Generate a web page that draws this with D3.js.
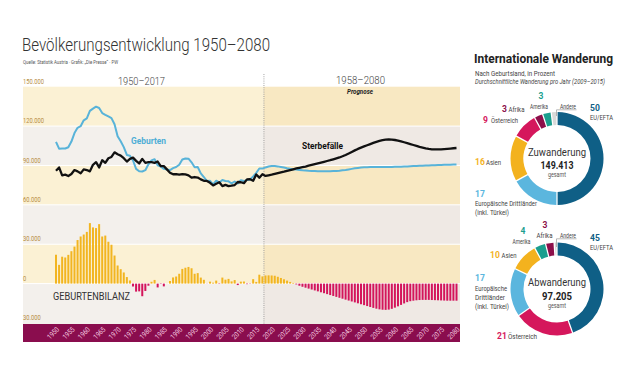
<!DOCTYPE html>
<html><head><meta charset="utf-8">
<script src="https://cdn.jsdelivr.net/npm/d3@7"></script>
<style>
body{margin:0;background:#fff;}
svg{display:block;font-family:"Roboto","Liberation Sans",sans-serif;}
</style></head><body>
<svg id="c" width="640" height="384"></svg>
<script>
// ---------- DATA (values in thousands) ----------
const years = d3.range(1950, 2081);
const births = [
108.0,102.8,103.0,102.9,103.9,108.2,114.7,118.7,119.9,124.4,
125.9,131.6,133.3,134.8,133.8,129.9,128.6,127.4,126.1,121.4,
112.3,108.5,104.0,98.0,97.4,93.8,87.4,85.6,85.4,86.4,
90.9,93.9,94.8,90.1,89.2,87.4,87.0,86.5,88.0,88.8,
90.5,94.6,95.3,95.2,92.4,88.7,88.8,84.0,81.2,78.1,
78.3,75.5,78.4,76.9,78.9,78.2,77.9,76.3,77.8,76.3,
78.7,78.1,79.0,79.3,81.7,84.4,87.7,87.6,
88.5,89.2,89.6,89.6,89.3,88.9,88.4,87.9,87.5,87.2,
86.9,86.6,86.3,86.1,85.9,85.8,85.7,85.6,85.6,85.6,
85.6,85.6,85.7,85.8,86.0,86.3,86.6,87.0,87.4,87.8,
88.1,88.4,88.6,88.7,88.8,88.9,88.9,88.9,88.9,88.9,
88.9,88.9,89.0,89.0,89.1,89.2,89.3,89.4,89.5,89.6,
89.7,89.8,89.9,90.0,90.1,90.2,90.3,90.4,90.5,90.6,
90.6,90.7,90.8];
const deaths = [
86.0,88.5,82.5,83.0,82.0,83.5,86.5,85.5,84.0,87.0,
86.5,85.5,90.5,92.5,88.5,94.0,92.0,95.5,96.5,100.0,
98.5,97.5,95.5,93.0,95.0,96.0,93.5,91.5,95.0,92.0,
92.5,92.5,92.0,93.0,89.5,89.5,87.0,84.5,83.3,83.4,
83.0,83.4,83.2,82.5,80.7,81.2,80.8,79.4,78.3,78.2,
76.8,74.8,76.1,77.2,74.3,75.2,74.3,74.6,75.1,77.4,
77.2,76.5,79.4,79.5,78.3,83.1,80.7,83.3,
82.0,82.5,83.0,83.6,84.2,84.8,85.3,85.9,86.5,87.1,
87.7,88.2,88.7,89.2,89.8,90.4,91.0,91.6,92.2,92.8,
93.4,94.0,94.7,95.4,96.1,97.0,98.0,99.1,100.3,101.5,
102.6,103.6,104.5,105.4,106.3,107.2,108.0,108.7,109.3,109.7,
109.8,109.7,109.4,109.0,108.4,107.7,107.0,106.3,105.6,104.9,
104.2,103.6,103.0,102.6,102.3,102.2,102.2,102.3,102.5,102.7,
102.9,103.1,103.3];
const balance = [
22.0,14.3,20.5,19.9,21.9,24.7,28.2,33.2,35.9,37.4,
39.4,46.1,42.8,42.3,45.3,35.9,36.6,31.9,29.6,21.4,
13.8,11.0,8.5,5.0,2.4,-2.2,-6.1,-5.9,-9.6,-5.6,
-1.6,1.4,2.8,-2.9,-0.3,-2.1,0.1,2.0,4.7,5.4,
7.5,11.2,12.1,12.7,11.7,7.5,8.0,4.6,2.9,-0.1,
1.5,0.7,2.3,-0.3,4.6,3.0,3.6,1.7,2.7,-1.1,
1.5,1.6,-0.4,-0.2,3.4,1.3,6.8,5.5,
6.2,6.3,6.2,6.0,5.2,4.3,3.3,2.3,1.3,0.5,
-0.6,-1.6,-2.4,-3.1,-3.8,-4.5,-5.2,-5.9,-6.6,-7.3,
-8.0,-8.7,-9.4,-10.1,-10.8,-11.5,-12.2,-12.9,-13.6,-14.3,
-15.0,-15.7,-16.4,-17.1,-17.8,-18.5,-19.1,-19.6,-19.9,-20.0,
-19.8,-19.2,-18.3,-17.3,-16.2,-15.1,-14.1,-13.4,-13.0,-12.7,
-12.5,-12.4,-12.4,-12.4,-12.5,-12.6,-12.7,-12.8,-12.9,-13.0,
-13.0,-13.0,-13.0];
const yTicks = [150,120,90,60,30,0,-30];
const yTickLabels = ["150.000","120.000","90.000","60.000","30.000","0","30.000"];
const xTickYears = d3.range(1950, 2081, 5);
const lastObservedYear = 2017;

const zuCategories = ["EU/EFTA","Europäische Drittländer","Asien","Österreich","Afrika","Amerika","Andere"];
const zuValues     = [50,17,16,9,3,3,2];
const zuTotal = "149.413";
const abCategories = ["EU/EFTA","Österreich","Europäische Drittländer","Asien","Amerika","Afrika","Andere"];
const abValues     = [45,21,17,10,4,3,1];
const abTotal = "97.205";

// ---------- STYLE ----------
const catColor = {
  "EU/EFTA":"#0f5f86","Europäische Drittländer":"#5bb6de","Asien":"#f3b21e",
  "Österreich":"#d5175c","Afrika":"#8c0f4a","Amerika":"#1b9e8e","Andere":"#d9d9d9"
};
const svg = d3.select("#c");

// text helper: o = {size, w (target width), sx (x-scale), anchor, weight, style, fill}
function T(parent, x, y, str, o) {
  o = o || {};
  const t = parent.append("text").attr("font-size", o.size || 7).attr("fill", o.fill || "#444")
    .attr("text-anchor", o.anchor || "start").text(str);
  if (o.weight) t.attr("font-weight", o.weight);
  if (o.style) t.attr("font-style", o.style);
  if (o.w) {
    t.attr("x", x).attr("y", y).attr("textLength", o.w).attr("lengthAdjust", "spacingAndGlyphs");
  } else {
    t.attr("transform", `translate(${x},${y}) scale(${o.sx || 0.84},1)`);
  }
  return t;
}

// ---------- LEFT CHART ----------
const x = d3.scaleLinear().domain([1950,2080]).range([56,456.5]);
const y = d3.scaleLinear().domain([-30,150]).range([323,86.7]);
const left = 23, right = 460, xDiv = x(lastObservedYear + 0.5);
const bandColsL = ["#fbf1d4","#f3f0ec"], bandColsR = ["#f8e8c2","#efe9e4"];

const g = svg.append("g");
for (let i = 0; i < yTicks.length - 1; i++) {
  const y0 = y(yTicks[i]), y1 = (i === yTicks.length - 2) ? 324 : y(yTicks[i+1]);
  g.append("rect").attr("x",left).attr("y",y0).attr("width",xDiv-left).attr("height",y1-y0).attr("fill",bandColsL[i%2]);
  g.append("rect").attr("x",xDiv).attr("y",y0).attr("width",right-xDiv).attr("height",y1-y0).attr("fill",bandColsR[i%2]);
}
yTicks.slice(1,-1).forEach(t => {
  g.append("line").attr("x1",left).attr("x2",right).attr("y1",y(t)).attr("y2",y(t))
   .attr("stroke","#fff").attr("stroke-width",1);
});
// y labels
yTicks.forEach((d,i) => T(g, left, y(d)-2.8, yTickLabels[i], {size:7.2, fill:"#b68c3f", sx:0.8}));

// divider
g.append("line").attr("x1",xDiv).attr("x2",xDiv).attr("y1",74).attr("y2",324)
  .attr("stroke","#8d8d8d").attr("stroke-width",0.8).attr("stroke-dasharray","1,1.2");

// bars
g.selectAll(".bar").data(years).join("rect")
  .attr("x",d=>x(d)-1).attr("width",2)
  .attr("y",(d,i)=>y(Math.max(0,balance[i])))
  .attr("height",(d,i)=>Math.abs(y(balance[i])-y(0)))
  .attr("fill",(d,i)=>balance[i]>=0?"#f2b520":"#d4155b");

// lines
const line = arr => d3.line().x((d,i)=>x(years[i])).y(d=>y(d))(arr);
g.append("path").attr("d",line(births)).attr("fill","none").attr("stroke","#58b3d9").attr("stroke-width",2).attr("stroke-linejoin","round");
g.append("path").attr("d",line(deaths)).attr("fill","none").attr("stroke","#111").attr("stroke-width",2.3).attr("stroke-linejoin","round");

// x band
g.append("rect").attr("x",left).attr("y",324).attr("width",right-left).attr("height",18).attr("fill","#8a0d4e");
xTickYears.forEach(d => {
  g.append("text").attr("transform",`translate(${x(d)-2.5},333.5) rotate(-45) scale(0.85,1)`)
   .attr("text-anchor","middle").attr("dominant-baseline","middle")
   .attr("font-size",7.2).attr("fill","#f7cde0").text(d);
});

// texts
T(svg, 22, 51, "Bevölkerungsentwicklung 1950–2080", {size:18.5, fill:"#333", weight:300, w:248});
T(svg, 23, 63.5, "Quelle: Statistik Austria · Grafik: „Die Presse“ · PW", {size:4.6, fill:"#555", w:95});
T(svg, 141.5, 85, "1950–2017", {size:11.5, fill:"#444", anchor:"middle", weight:300, w:47});
T(svg, 360.5, 84, "1958–2080", {size:11.5, fill:"#444", anchor:"middle", weight:300, w:49});
T(svg, 360, 94, "Prognose", {size:7.5, fill:"#222", anchor:"middle", weight:"bold", style:"italic", w:26});
T(svg, 131, 144, "Geburten", {size:9, fill:"#4eaed6", weight:"bold", w:35});
T(svg, 302, 149, "Sterbefälle", {size:9, fill:"#111", weight:"bold", w:41});
T(svg, 53, 300, "GEBURTENBILANZ", {size:10.3, fill:"#333", w:77});

// ---------- RIGHT PANEL ----------
T(svg, 474, 63, "Internationale Wanderung", {size:13, fill:"#222", weight:"bold", w:139});
T(svg, 475, 75.5, "Nach Geburtsland, in Prozent", {size:7, fill:"#444", w:80});
T(svg, 475, 84, "Durchschnittliche Wanderung pro Jahr (2009–2015)", {size:7, fill:"#444", style:"italic", w:130});

function donut(cx, cy, cats, vals, title, total, numW) {
  const pie = d3.pie().sort(null).value(d=>d)(vals);
  const arc = d3.arc().innerRadius(33.5).outerRadius(46.5).padAngle(0.022);
  const dg = svg.append("g").attr("transform",`translate(${cx},${cy})`);
  dg.selectAll("path").data(pie).join("path").attr("d",arc).attr("fill",(d,i)=>catColor[cats[i]]);
  T(dg, 0, -3, title, {size:11.5, fill:"#333", anchor:"middle", w:58});
  T(dg, 0, 10.5, total, {size:10.5, fill:"#222", anchor:"middle", weight:"bold", w:numW});
  T(dg, 0, 18.8, "gesamt", {size:6.3, fill:"#555", anchor:"middle", w:18});
}
donut(557,158.5,zuCategories,zuValues,"Zuwanderung",zuTotal,33);
donut(557,289,abCategories,abValues,"Abwanderung",abTotal,30);

function num(xp, yp, v, cat, anchor) {
  return T(svg, xp, yp, String(v), {size:9.5, weight:"bold", fill:catColor[cat], anchor:anchor||"start", sx:0.9});
}
function lab(xp, yp, s, w, anchor) {
  return T(svg, xp, yp, s, {size:7, fill:"#444", anchor:anchor||"start", w:w});
}
function andere(xl, yl, segY) {
  lab(xl+3.5, yl, "Andere", 16);
  svg.append("path").attr("d",`M${xl},${segY}V${yl+1.3}H${xl+20}`).attr("fill","none").attr("stroke","#888").attr("stroke-width",0.6);
}
// Zuwanderung labels
const zi = c => zuValues[zuCategories.indexOf(c)];
num(590,110.5,zi("EU/EFTA"),"EU/EFTA"); lab(590,120,"EU/EFTA",23);
num(541,99,zi("Amerika"),"Amerika","middle"); lab(539,108.5,"Amerika",18,"middle");
num(502,112,zi("Afrika"),"Afrika"); lab(508.5,112,"Afrika",16);
num(483,123,zi("Österreich"),"Österreich"); lab(491,123,"Österreich",27);
num(475,165,zi("Asien"),"Asien"); lab(486,165,"Asien",15);
num(475,196.5,zi("Europäische Drittländer"),"Europäische Drittländer");
lab(475,206,"Europäische Drittländer",62); lab(475,215,"(inkl. Türkei)",34);
andere(556.5,108.5,116);
// Abwanderung labels
const ai = c => abValues[abCategories.indexOf(c)];
num(590,240.5,ai("EU/EFTA"),"EU/EFTA"); lab(590,250,"EU/EFTA",23);
num(545,227.5,ai("Afrika"),"Afrika","middle"); lab(544.5,237.5,"Afrika",16,"middle");
num(523,234,ai("Amerika"),"Amerika","middle"); lab(521.5,244,"Amerika",18,"middle");
num(490,258,ai("Asien"),"Asien"); lab(501.5,258,"Asien",15);
num(475,280.5,ai("Europäische Drittländer"),"Europäische Drittländer");
lab(475,290.5,"Europäische",32); lab(475,299.5,"Drittländer",30); lab(475,309,"(inkl. Türkei)",34);
num(497,339,ai("Österreich"),"Österreich"); lab(508,339,"Österreich",29);
andere(556.5,237.5,247);
</script>
</body></html>
